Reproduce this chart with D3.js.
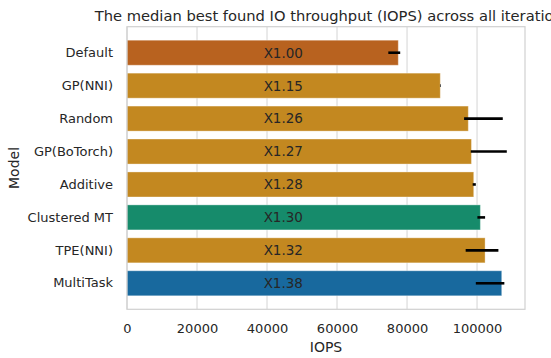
<!DOCTYPE html>
<html>
<head>
<meta charset="utf-8">
<script src="https://cdn.jsdelivr.net/npm/d3@7"></script>
<style>
  html, body { margin: 0; padding: 0; background: #fff; }
  svg { display: block; font-family: "DejaVu Sans", sans-serif; }
</style>
</head>
<body>
<svg id="chart" width="551" height="358"></svg>
<script>
const models = ["Default", "GP(NNI)", "Random", "GP(BoTorch)", "Additive", "Clustered MT", "TPE(NNI)", "MultiTask"];
const iops = [77500, 89500, 97500, 98400, 99050, 100950, 102300, 107050];
const errLow = [74650, 89400, 96300, 98200, 98750, 100100, 96750, 99650];
const errHigh = [78050, 89700, 107350, 108500, 99650, 102300, 106100, 107800];
const speedupLabels = ["X1.00", "X1.15", "X1.26", "X1.27", "X1.28", "X1.30", "X1.32", "X1.38"];
const barColors = ["#b8621f", "#c38820", "#c38820", "#c38820", "#c38820", "#168b6b", "#c38820", "#18699e"];
const xTicks = [0, 20000, 40000, 60000, 80000, 100000];
const xMax = 113700;
const labelPos = 44650;
const titleText = "The median best found IO throughput (IOPS) across all iterations";

(function () {
const svg = d3.select("#chart");
const mLeft = 127, mRight = 525, mTop = 26.7, mBottom = 309.3;
const textColor = "#262626";

const x = d3.scaleLinear().domain([0, xMax]).range([mLeft, mRight]);
const y = d3.scaleBand().domain(models).range([mTop, mBottom]).paddingInner(0.24).paddingOuter(0.41);

// grid
svg.append("g").selectAll("line").data(xTicks).join("line")
  .attr("x1", d => x(d)).attr("x2", d => x(d))
  .attr("y1", mTop).attr("y2", mBottom)
  .attr("stroke", "#d4d4d4").attr("stroke-width", 1);

// bars
svg.append("g").selectAll("rect").data(models).join("rect")
  .attr("x", x(0))
  .attr("y", d => y(d))
  .attr("width", (d, i) => x(iops[i]) - x(0))
  .attr("height", y.bandwidth())
  .attr("fill", (d, i) => barColors[i])
  .attr("stroke", "rgba(255,255,255,0.35)")
  .attr("stroke-width", 1);

// error bars
svg.append("g").selectAll("line").data(models).join("line")
  .attr("x1", (d, i) => x(errLow[i]))
  .attr("x2", (d, i) => x(errHigh[i]))
  .attr("y1", d => y(d) + y.bandwidth() / 2)
  .attr("y2", d => y(d) + y.bandwidth() / 2)
  .attr("stroke", (d, i) => (errHigh[i] - errLow[i] < 500 ? "#555" : "#000"))
  .attr("stroke-width", 2.6);

// speedup labels
svg.append("g").selectAll("text").data(models).join("text")
  .attr("x", x(labelPos))
  .attr("y", d => y(d) + y.bandwidth() / 2)
  .attr("dy", "0.36em")
  .attr("text-anchor", "middle")
  .attr("font-size", "13.5px")
  .attr("fill", textColor)
  .text((d, i) => speedupLabels[i]);

// frame
svg.append("rect")
  .attr("x", mLeft).attr("y", mTop)
  .attr("width", mRight - mLeft).attr("height", mBottom - mTop)
  .attr("fill", "none").attr("stroke", "#d0d0d0").attr("stroke-width", 1.2);

// x axis labels
const xAxis = d3.axisBottom(x).tickValues(xTicks).tickSize(0).tickPadding(14).tickFormat(d3.format("d"));
const gx = svg.append("g").attr("transform", `translate(0,${mBottom})`).call(xAxis);
gx.select(".domain").remove();
gx.selectAll("text").attr("font-size", "13px").attr("fill", textColor).attr("font-family", "DejaVu Sans, sans-serif");

// y axis labels
const yAxis = d3.axisLeft(y).tickSize(0).tickPadding(14);
const gy = svg.append("g").attr("transform", `translate(${mLeft},0)`).call(yAxis);
gy.select(".domain").remove();
gy.selectAll("text").attr("font-size", "13px").attr("fill", textColor).attr("font-family", "DejaVu Sans, sans-serif");

// axis titles
svg.append("text")
  .attr("x", (mLeft + mRight) / 2).attr("y", 352)
  .attr("text-anchor", "middle").attr("font-size", "14px").attr("fill", textColor)
  .text("IOPS");
svg.append("text")
  .attr("transform", `translate(19,${(mTop + mBottom) / 2}) rotate(-90)`)
  .attr("text-anchor", "middle").attr("font-size", "14px").attr("fill", textColor)
  .text("Model");

// title (runs past the right edge, as in the reference)
svg.append("text")
  .attr("x", 94.7).attr("y", 20.5)
  .attr("text-anchor", "start").attr("font-size", "14.7px").attr("fill", textColor)
  .text(titleText);
})();
</script>
</body>
</html>
